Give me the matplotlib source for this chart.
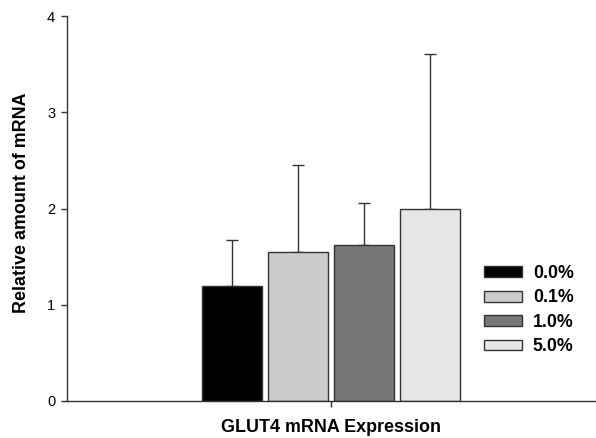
import matplotlib
matplotlib.use("Agg")
import matplotlib.pyplot as plt
import numpy as np

plt.rcParams['font.family'] = ['Liberation Sans', 'DejaVu Sans']

categories = ["0.0%", "0.1%", "1.0%", "5.0%"]
means = [1.19, 1.55, 1.62, 1.99]
upper_err = [0.48, 0.90, 0.44, 1.62]
colors = ["#000000", "#cccccc", "#777777", "#e6e6e6"]
group_label = "GLUT4 mRNA Expression"
y_ticks = [0, 1, 2, 3, 4]

W, H = 596, 438
fig = plt.figure(figsize=(W / 100, H / 100), dpi=100)
ax = fig.add_axes([67 / W, (H - 401) / H, (W - 67) / W, (401 - 16) / H])

positions = np.array([-1.5, -0.5, 0.5, 1.5])
edge = "#333333"
for x, m, e, c, lab in zip(positions, means, upper_err, colors, categories):
    ax.bar(x, m, width=0.91, color=c, edgecolor=edge, linewidth=1.0, label=lab, zorder=2)
    ax.errorbar(x, m, yerr=[[0], [e]], fmt='none', ecolor=edge, elinewidth=1.0,
                capsize=4.3, capthick=1.0, zorder=1)

ax.set_xlim(-4, 4.02)
ax.set_ylim(0, 4)
ax.set_yticks(y_ticks)
ax.set_yticklabels([str(t) for t in y_ticks])
ax.set_xticks([0])
ax.set_xticklabels([""])
ax.tick_params(axis='both', direction='out', length=4.5, width=1.0, color=edge,
               labelsize=10.5, pad=4)
for s in ['top', 'right']:
    ax.spines[s].set_visible(False)
for s in ['left', 'bottom']:
    ax.spines[s].set_color(edge)
    ax.spines[s].set_linewidth(1.0)

fig.text(331 / W, 1 - 427 / H, group_label, ha='center', va='center',
         fontsize=12.9, fontweight='bold')
fig.text(22 / W, 1 - 203 / H, "Relative amount of mRNA", ha='center', va='center',
         rotation=90, fontsize=12.9, fontweight='bold')

leg = fig.legend(loc='upper left', bbox_to_anchor=(484 / W, 1 - 265 / H),
                 frameon=False, prop={'weight': 'bold', 'size': 12.8},
                 handlelength=2.15, handleheight=0.55, handletextpad=0.6,
                 labelspacing=0.42, borderpad=0, borderaxespad=0)

fig.savefig("out.png", dpi=100)
